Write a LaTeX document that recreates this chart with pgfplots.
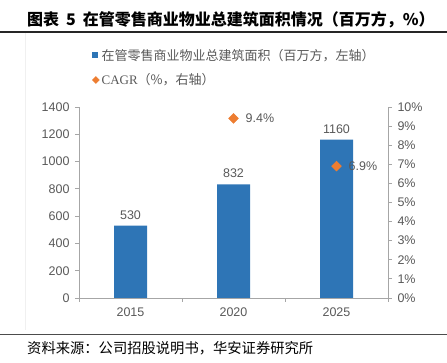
\documentclass[border=0pt]{standalone}
\usepackage{pgfplots}
\pgfplotsset{compat=1.18}
\usepackage{fontspec}
\setmainfont{Liberation Sans}
\newfontfamily\cjk{Noto Sans CJK SC}
\newfontfamily\serif{Liberation Serif}
\definecolor{barblue}{HTML}{2E75B6}
\definecolor{cagr}{HTML}{ED7D31}
\definecolor{axgray}{HTML}{A6A6A6}
\definecolor{txtgray}{HTML}{595959}
\pgfplotsset{
  every axis/.append style={
    /pgf/number format/assume math mode=true,
    /pgf/number format/1000 sep={},
  }
}
\begin{document}
\begin{tikzpicture}
\path[use as bounding box] (0pt,0pt) rectangle (447pt,363pt);
\node[anchor=west, font=\cjk\bfseries\fontsize{16}{18}\selectfont, inner sep=0pt] at (27pt,343.5pt) {图表\hspace{7pt}5\hspace{7pt}在管零售商业物业总建筑面积情况（百万方，\%）};
\draw[line width=1.2pt, black!85] (0pt,331pt) -- (447pt,331pt);
\draw[gray!12] (25pt,33pt) -- (25pt,330pt);
\draw[line width=0.8pt, black!70] (0pt,29pt) -- (447pt,29pt);
\node[anchor=west, font=\cjk\fontsize{14.3}{16}\selectfont, inner sep=0pt] at (27pt,15pt) {资料来源：公司招股说明书，华安证券研究所};

\begin{axis}[
  at={(79pt,65pt)}, anchor=south west,
  scale only axis, width=309pt, height=191pt,
  xmin=-0.5, xmax=2.5, ymin=0, ymax=1400,
  ytick={0,200,...,1400},
  xtick={0,1,2}, xticklabels={2015,2020,2025},
  minor xtick={-0.5,0.5,1.5,2.5},
  major x tick style={draw=none},
  axis x line*=bottom, axis y line*=left,
  tick align=outside,
  major tick length=4pt, minor tick length=4pt,
  axis line style={axgray, line width=0.8pt},
  tick style={axgray, line width=0.8pt},
  ticklabel style={font=\fontsize{12.5}{14}\selectfont, text=txtgray},
  yticklabel style={xshift=-2pt},
  xticklabel style={yshift=-2pt},
  legend style={at={(0.042,1.315)}, anchor=north west, draw=none, fill=none,
    font=\cjk\fontsize{13}{14}\selectfont, text=txtgray, row sep=8pt, inner sep=0pt},
  legend cell align=left,
]
\addplot[ybar, bar width=33pt, fill=barblue, draw=none,
  nodes near coords,
  nodes near coords style={font=\fontsize{12.5}{14}\selectfont, text=txtgray, yshift=3pt},
  legend image code/.code={\fill[barblue] (0pt,-3pt) rectangle (6pt,3pt);}]
  coordinates {(0,530) (1,832) (2,1160)};
\addlegendentry{在管零售商业物业总建筑面积（百万方，左轴）}
\addlegendimage{legend image code/.code={\fill[cagr] (3.5pt,-3.5pt) -- (7pt,0pt) -- (3.5pt,3.5pt) -- (0pt,0pt) -- cycle;}}
\addlegendentry{{\serif CAGR}（\%，右轴）}
\end{axis}

\begin{axis}[
  at={(79pt,65pt)}, anchor=south west,
  scale only axis, width=309pt, height=191pt,
  xmin=-0.5, xmax=2.5, ymin=0, ymax=10,
  ytick={0,1,...,10},
  yticklabel={\pgfmathprintnumber{\tick}\%},
  axis y line*=right, axis x line=none,
  tick align=outside,
  major tick length=4pt,
  axis line style={axgray, line width=0.8pt},
  tick style={axgray, line width=0.8pt},
  ticklabel style={font=\fontsize{12.5}{14}\selectfont, text=txtgray},
  yticklabel style={xshift=2pt},
]
\addplot[only marks, mark=square*, mark size=3.5pt,
  mark options={rotate=45, fill=cagr, draw=cagr},
  nodes near coords={\pgfmathprintnumber{\pgfplotspointmeta}\%},
  nodes near coords style={anchor=west, inner sep=0pt, xshift=12pt,
    font=\fontsize{12.5}{14}\selectfont, text=txtgray}]
  coordinates {(1,9.4) (2,6.9)};
\end{axis}
\end{tikzpicture}
\end{document}
